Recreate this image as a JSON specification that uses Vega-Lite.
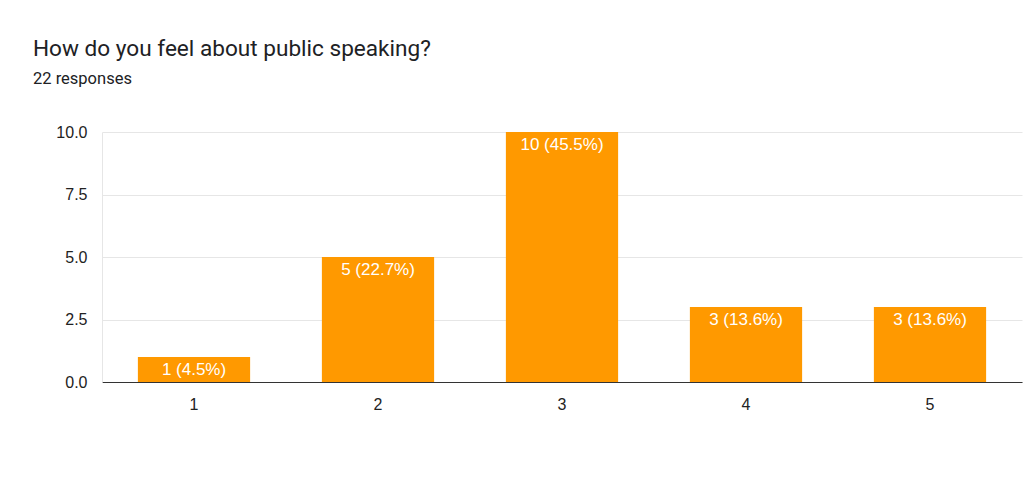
{
  "$schema": "https://vega.github.io/schema/vega-lite/v6.json",
  "autosize": "none",
  "width": 920,
  "height": 250,
  "padding": {"left": 102, "top": 132, "right": 2, "bottom": 105},
  "background": "white",
  "title": {
    "text": "How do you feel about public speaking?",
    "subtitle": "22 responses",
    "anchor": "start",
    "frame": "group",
    "dx": -69,
    "offset": 37,
    "font": "Roboto",
    "fontSize": 22.6,
    "fontWeight": "normal",
    "color": "#202124",
    "subtitleFont": "Roboto",
    "subtitleFontSize": 16.5,
    "subtitleColor": "#202124",
    "subtitlePadding": 10
  },
  "data": {
    "values": [
      {"rating": "1", "count": 1, "label": "1 (4.5%)"},
      {"rating": "2", "count": 5, "label": "5 (22.7%)"},
      {"rating": "3", "count": 10, "label": "10 (45.5%)"},
      {"rating": "4", "count": 3, "label": "3 (13.6%)"},
      {"rating": "5", "count": 3, "label": "3 (13.6%)"}
    ]
  },
  "encoding": {
    "x": {
      "field": "rating",
      "type": "nominal",
      "sort": null,
      "scale": {"paddingInner": 0.39, "paddingOuter": 0.195},
      "axis": {
        "title": null,
        "labelAngle": 0,
        "labelFont": "Liberation Sans",
        "labelFontSize": 16,
        "labelColor": "#222222",
        "labelPadding": 14,
        "ticks": false,
        "domainColor": "#333333",
        "domainWidth": 1.2,
        "grid": false
      }
    },
    "y": {
      "field": "count",
      "type": "quantitative",
      "scale": {"domain": [0, 10], "nice": false},
      "axis": {
        "title": null,
        "values": [0, 2.5, 5, 7.5, 10],
        "format": ".1f",
        "labelFont": "Liberation Sans",
        "labelFontSize": 16,
        "labelColor": "#222222",
        "labelPadding": 15,
        "ticks": false,
        "domainColor": "#e6e6e6",
        "gridColor": "#e6e6e6",
        "grid": true
      }
    }
  },
  "layer": [
    {"mark": {"type": "bar", "color": "#ff9900"}},
    {
      "mark": {
        "type": "text",
        "baseline": "top",
        "dy": 5,
        "color": "white",
        "font": "Liberation Sans",
        "fontSize": 17
      },
      "encoding": {"text": {"field": "label"}}
    }
  ],
  "config": {"view": {"stroke": null}}
}
